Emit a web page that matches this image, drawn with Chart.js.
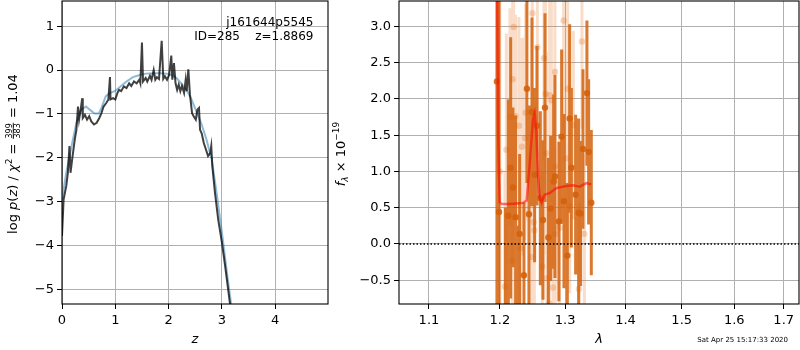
<!DOCTYPE html>
<html><head><meta charset="utf-8">
<script src="https://cdn.jsdelivr.net/npm/chart.js@4.4.1/dist/chart.umd.min.js"></script>
<style>
html,body{margin:0;padding:0;background:#fff;}
#wrap{position:relative;width:800px;height:350px;overflow:hidden;}
canvas{position:absolute;top:0;}
</style>
</head><body>
<div id="wrap">
<canvas id="c1" width="340" height="350" style="left:0px"></canvas>
<canvas id="c2" width="470" height="350" style="left:330px"></canvas>
</div>
<script>
// ---------------- Left panel data: log p(z) ----------------
const Z_TICKS = [0, 1, 2, 3, 4];
const LOGP_TICKS = [1, 0, -1, -2, -3, -4, -5];
const Z_MIN = 0, Z_MAX = 4.99, LOGP_MIN = -5.33, LOGP_MAX = 1.575;

const Z_PZ = [0.00,0.03,0.08,0.11,0.14,0.16,0.19,0.24,0.27,0.30,0.32,0.35,0.38,0.39,0.43,0.47,0.51,0.55,0.60,0.65,
  0.70,0.74,0.78,0.83,0.87,0.90,0.91,0.96,1.00,1.04,1.07,1.11,1.16,1.21,1.26,1.30,1.35,1.40,1.45,1.47,
  1.50,1.52,1.57,1.60,1.65,1.68,1.72,1.75,1.78,1.82,1.87,1.90,1.93,1.97,2.01,2.05,2.07,2.10,2.13,2.16,
  2.19,2.22,2.25,2.29,2.32,2.34,2.37,2.40,2.44,2.47,2.51,2.54,2.57,2.59,2.62,2.66,2.70,2.74,2.78,2.80,
  2.82,2.87,2.93,3.00,3.06,3.15,3.21];
const LOGP_PZ = [-3.78,-2.95,-2.64,-2.34,-1.73,-2.34,-2.04,-1.58,-1.36,-0.83,-1.13,-0.90,-0.64,-1.09,-1.02,-1.13,-1.05,-1.17,-1.24,-1.20,
  -1.09,-0.98,-0.83,-0.75,-0.67,-0.16,-0.67,-0.64,-0.67,-0.52,-0.45,-0.48,-0.37,-0.41,-0.30,-0.36,-0.26,-0.30,-0.22,-0.30,
  0.63,-0.26,-0.18,-0.26,-0.13,-0.22,0.00,-0.22,-0.16,-0.20,0.67,-0.20,-0.14,-0.22,-0.11,0.33,-0.22,0.16,-0.30,-0.45,
  -0.33,-0.48,-0.36,-0.52,-0.22,-0.48,0.02,-0.56,-0.98,-1.05,-1.13,-0.90,-0.86,-1.36,-1.44,-1.66,-1.81,-1.96,-1.89,-1.73,
  -2.19,-2.80,-3.40,-3.93,-4.46,-5.31,-5.90];

const Z_FIT = [0.00,0.08,0.18,0.27,0.36,0.45,0.52,0.61,0.69,0.74,0.82,0.90,0.99,1.08,1.21,1.33,1.46,1.58,1.71,1.83,
  1.96,2.05,2.15,2.24,2.34,2.43,2.52,2.62,2.71,2.81,2.90,3.00,3.09,3.17,3.25];
const LOGP_FIT = [-2.95,-2.34,-1.73,-1.20,-0.90,-0.83,-0.90,-0.99,-0.99,-0.86,-0.60,-0.52,-0.48,-0.39,-0.26,-0.16,-0.11,-0.08,-0.07,-0.07,
  -0.08,-0.11,-0.18,-0.31,-0.46,-0.67,-0.94,-1.24,-1.58,-2.04,-2.80,-3.70,-4.58,-5.31,-6.00];

// ---------------- Right panel data: spectrum ----------------
const LAM_TICKS = [1.1, 1.2, 1.3, 1.4, 1.5, 1.6, 1.7];
const FLUX_TICKS = [-0.5, 0.0, 0.5, 1.0, 1.5, 2.0, 2.5, 3.0];
const LAM_MIN = 1.0603, LAM_MAX = 1.7322, FLUX_MIN = -0.827, FLUX_MAX = 3.349;

const DARK_LAM  = [1.1957,1.1987,1.2082,1.2125,1.2160,1.2194,1.2234,1.2262,1.2295,1.2360,1.2405,1.2436,1.2482,1.2523,1.2559,1.2611,1.2652,1.2683,
  1.2736,1.2772,1.2819,1.2839,1.2902,1.2945,1.2982,1.3036,1.3073,1.3100,1.3169,1.3218,1.3250,1.3288,1.3353,1.3381,1.3425];
const DARK_FLUX = [2.24,0.44,-1.00,0.39,1.05,0.78,0.37,-0.95,0.14,-0.43,2.14,0.41,1.82,0.95,1.63,0.63,0.33,1.88,
  0.09,0.49,0.86,0.93,0.31,1.48,0.59,-0.16,1.73,1.05,0.68,0.43,0.42,1.31,2.08,1.27,0.57];
const DARK_ERR  = [5.0,3.0,1.5,1.6,1.8,1.1,1.4,1.2,1.1,1.0,1.3,1.5,1.3,1.2,1.1,1.2,1.1,1.3,
  1.1,1.0,1.2,1.4,1.1,1.2,1.2,1.0,1.3,1.1,1.1,1.3,1.0,1.1,1.0,1.0,1.0];

const FAINT_LAM  = [1.2000,1.2075,1.2096,1.2149,1.2185,1.2190,1.2205,1.2234,1.2284,1.2299,1.2330,1.2375,1.2386,1.2466,1.2488,1.2508,1.2519,1.2565,1.2642,
  1.2667,1.2693,1.2704,1.2714,1.2751,1.2756,1.2783,1.2808,1.2836,1.2839,1.2845,1.2909,1.2977,1.3014,1.3041,1.3073,1.3132,1.3223,1.3272,1.3311];
const FAINT_FLUX = [1.00,-0.59,1.30,1.75,-0.23,2.27,2.99,1.76,1.63,-0.06,1.34,1.46,1.81,-0.18,3.18,0.30,0.19,2.71,-0.31,
  2.56,2.07,1.25,-0.47,-0.82,2.05,1.98,-0.60,1.07,2.37,0.14,0.22,3.08,1.18,2.14,0.52,1.64,-0.62,2.79,0.14];
const FAINT_ERR  = [3.0,1.6,1.6,1.5,1.5,1.6,1.6,1.4,1.5,1.3,1.5,1.4,1.5,1.4,1.6,1.4,1.3,1.5,1.3,
  1.4,1.3,1.4,1.2,1.3,1.4,1.4,1.3,1.2,1.3,1.2,1.3,1.5,1.3,1.4,1.2,1.3,1.2,1.2,1.1];

const MODEL_LAM  = [1.1957,1.1975,1.1997,1.2026,1.2145,1.2295,1.2355,1.2401,1.2447,1.2497,1.2523,1.2550,1.2574,1.2600,1.2631,1.2678,
  1.2756,1.2862,1.3020,1.3126,1.3234,1.3343,1.3425];
const MODEL_FLUX = [4.00,1.50,0.58,0.55,0.55,0.56,0.57,0.60,1.10,1.71,1.80,1.52,0.97,0.64,0.57,0.68,
  0.70,0.77,0.80,0.81,0.79,0.84,0.82];

// ---------------- helpers ----------------
const FAM = '"DejaVu Sans", "Liberation Sans", sans-serif';
Chart.defaults.font.family = FAM;
Chart.defaults.font.size = 13;
Chart.defaults.color = '#000';

const xy = (xs, ys) => xs.map((x, i) => ({x: x, y: ys[i]}));
function errSegs(xs, ys, es) {
  const out = [];
  xs.forEach((x, i) => { out.push({x: x, y: ys[i] - es[i]}, {x: x, y: ys[i] + es[i]}, {x: x, y: null}); });
  return out;
}
const minus = s => String(s).replace('-', '\u2212');
const gridOpts = {color: '#b0b0b0', lineWidth: 1, tickColor: '#000', tickLength: 5, tickWidth: 1, drawTicks: true};
const fitY = w => s => { s.width = w; s.paddingTop = 0; s.paddingBottom = 0; };
const fitX = h => s => { s.height = h; s.paddingLeft = 0; s.paddingRight = 0; };

function drawPieces(ctx, pieces, cx, cy, rotate) {
  ctx.save();
  ctx.translate(cx, cy);
  if (rotate) ctx.rotate(-Math.PI / 2);
  let total = 0;
  for (const p of pieces) {
    ctx.font = p.font;
    p.w = p.frac ? Math.max(ctx.measureText(p.num).width, ctx.measureText(p.den).width) + 2 : ctx.measureText(p.t).width;
    total += p.w;
  }
  let x = -total / 2;
  ctx.fillStyle = '#000';
  ctx.textBaseline = 'alphabetic';
  for (const p of pieces) {
    ctx.font = p.font;
    if (p.frac) {
      ctx.textAlign = 'center';
      const c = x + p.w / 2;
      ctx.fillText(p.num, c, p.numY);
      ctx.fillText(p.den, c, p.denY);
      ctx.fillRect(x + 0.5, p.barY, p.w - 1, 0.8);
    } else {
      ctx.textAlign = 'left';
      ctx.fillText(p.t, x, p.dy);
    }
    x += p.w;
  }
  ctx.restore();
}
function frame(chart) {
  const a = chart.chartArea, ctx = chart.ctx;
  ctx.save();
  ctx.strokeStyle = '#000';
  ctx.lineWidth = 1.1;
  ctx.strokeRect(a.left, a.top, a.right - a.left, a.bottom - a.top);
  ctx.restore();
}
const N = '13px ' + FAM, I = 'italic 13px ' + FAM, S = '9px ' + FAM, SI = 'italic 9px ' + FAM, F = '7px ' + FAM, FR = '8px ' + FAM;

// ---------------- Left chart ----------------
const leftDeco = {
  id: 'leftDeco',
  afterDraw(chart) {
    frame(chart);
    const ctx = chart.ctx, a = chart.chartArea;
    const B = 4.5;
    drawPieces(ctx, [
      {t: 'log ', font: N, dy: B}, {t: 'p', font: I, dy: B}, {t: '(', font: N, dy: B}, {t: 'z', font: I, dy: B},
      {t: ') / ', font: N, dy: B}, {t: '\u03c7', font: I, dy: B}, {t: '2', font: S, dy: B - 5.5},
      {t: ' = ', font: N, dy: B},
      {frac: true, num: '399', den: '383', font: FR, numY: B - 5.2, denY: B + 3.3, barY: B - 4.2},
      {t: ' = 1.04', font: N, dy: B}
    ], 12.5, 154, true);
    drawPieces(ctx, [{t: 'z', font: I, dy: 0}], (a.left + a.right) / 2, 343, false);
    ctx.save();
    ctx.font = '12px ' + FAM;
    ctx.fillStyle = '#000';
    ctx.textAlign = 'right';
    ctx.textBaseline = 'alphabetic';
    ctx.fillText('j161644p5545', 313.5, 26);
    ctx.fillText('ID=285    z=1.8869', 313.5, 39.5);
    ctx.restore();
  }
};

new Chart(document.getElementById('c1'), {
  type: 'line',
  data: {
    datasets: [
      {data: xy(Z_PZ, LOGP_PZ), borderColor: 'rgba(0,0,0,0.75)', borderWidth: 2, pointRadius: 0, tension: 0, order: 0, clip: 0},
      {data: xy(Z_FIT, LOGP_FIT), borderColor: 'rgba(31,119,180,0.5)', borderWidth: 2, pointRadius: 0, tension: 0, order: 1, clip: 0}
    ]
  },
  options: {
    responsive: false, animation: false, events: [],
    layout: {autoPadding: false, padding: {left: 0, right: 12, top: 1, bottom: 0}},
    plugins: {legend: {display: false}, tooltip: {enabled: false}},
    scales: {
      x: {type: 'linear', min: Z_MIN, max: Z_MAX, grid: gridOpts, border: {display: false},
          afterBuildTicks: s => { s.ticks = Z_TICKS.map(v => ({value: v})); },
          afterFit: fitX(46),
          ticks: {padding: 4, maxRotation: 0, autoSkip: false, callback: v => minus(v)}},
      y: {type: 'linear', min: LOGP_MIN, max: LOGP_MAX, grid: gridOpts, border: {display: false},
          afterBuildTicks: s => { s.ticks = LOGP_TICKS.map(v => ({value: v})); },
          afterFit: fitY(62),
          ticks: {padding: 3, autoSkip: false, callback: v => minus(v)}}
    }
  },
  plugins: [leftDeco]
});

// ---------------- Right chart ----------------
const rightDeco = {
  id: 'rightDeco',
  afterDraw(chart) {
    frame(chart);
    const ctx = chart.ctx, a = chart.chartArea;
    const B = 4.5;
    drawPieces(ctx, [
      {t: 'f', font: I, dy: B}, {t: '\u03bb', font: SI, dy: B + 3}, {t: ' \u00d7 10', font: N, dy: B},
      {t: '\u221219', font: S, dy: B - 5.5}
    ], 10, 154, true);
    drawPieces(ctx, [{t: '\u03bb', font: I, dy: 0}], (a.left + a.right) / 2, 343, false);
    ctx.save();
    ctx.font = F;
    ctx.fillStyle = '#000';
    ctx.textAlign = 'right';
    ctx.fillText('Sat Apr 25 15:17:33 2020', 458, 342);
    ctx.restore();
  }
};

new Chart(document.getElementById('c2'), {
  type: 'line',
  data: {
    datasets: [
      {data: [{x: LAM_MIN, y: 0}, {x: LAM_MAX, y: 0}], borderColor: '#000', borderWidth: 1.5, borderDash: [1.5, 2], pointRadius: 0, order: 0, clip: 0},
      {data: xy(MODEL_LAM, MODEL_FLUX), borderColor: 'rgba(255,0,0,0.55)', borderWidth: 2.5, pointRadius: 0, tension: 0, order: 1, clip: 0},
      {data: xy(DARK_LAM, DARK_FLUX), showLine: false, pointRadius: 3.2, pointBackgroundColor: 'rgba(212,98,12,0.9)', pointBorderWidth: 0, order: 2, clip: 0},
      {data: errSegs(DARK_LAM, DARK_FLUX, DARK_ERR), borderColor: 'rgba(212,98,12,0.85)', borderWidth: 3, borderCapStyle: 'butt', pointRadius: 0, spanGaps: false, order: 3, clip: 0},
      {data: xy(FAINT_LAM, FAINT_FLUX), showLine: false, pointRadius: 3.2, pointBackgroundColor: 'rgba(230,120,40,0.3)', pointBorderWidth: 0, order: 4, clip: 0},
      {data: errSegs(FAINT_LAM, FAINT_FLUX, FAINT_ERR), borderColor: 'rgba(230,120,40,0.25)', borderWidth: 3, borderCapStyle: 'butt', pointRadius: 0, spanGaps: false, order: 5, clip: 0}
    ]
  },
  options: {
    responsive: false, animation: false, events: [],
    layout: {autoPadding: false, padding: {left: 0, right: 1, top: 1, bottom: 0}},
    plugins: {legend: {display: false}, tooltip: {enabled: false}},
    scales: {
      x: {type: 'logarithmic', min: LAM_MIN, max: LAM_MAX, grid: gridOpts, border: {display: false},
          afterBuildTicks: s => { s.ticks = LAM_TICKS.map(v => ({value: v})); },
          afterFit: fitX(46),
          ticks: {padding: 4, maxRotation: 0, autoSkip: false, callback: v => Number(v).toFixed(1)}},
      y: {type: 'linear', min: FLUX_MIN, max: FLUX_MAX, grid: gridOpts, border: {display: false},
          afterBuildTicks: s => { s.ticks = FLUX_TICKS.map(v => ({value: v})); },
          afterFit: fitY(69),
          ticks: {padding: 3, autoSkip: false, callback: v => minus(Number(v).toFixed(1))}}
    }
  },
  plugins: [rightDeco]
});
</script>
</body></html>
